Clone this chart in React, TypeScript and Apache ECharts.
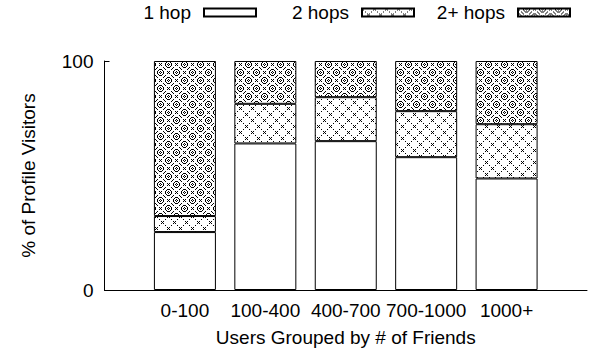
import React, { useEffect, useRef } from "react";
import * as echarts from "echarts";

// Friend-count groups and the share of profile visitors by hop distance (%)
const groups = ["0-100", "100-400", "400-700", "700-1000", "1000+"];
const oneHop = [25.3, 64.0, 65.0, 58.0, 48.7];
const twoHops = [7.0, 17.3, 19.2, 20.1, 23.7];
const morehops = [67.7, 18.7, 15.8, 21.9, 27.6];
const yTicks = [0, 100];

const FONT = "'Liberation Sans', Arial, Helvetica, sans-serif";
const FS = 19;

const mod = (a: number, n: number) => ((a % n) + n) % n;

// Builds a small black-on-white pixel tile and returns it as a data URL.
function makeTile(size: number, on: (x: number, y: number) => boolean): string {
  const c = document.createElement("canvas");
  c.width = size;
  c.height = size;
  const ctx = c.getContext("2d")!;
  const img = ctx.createImageData(size, size);
  for (let y = 0; y < size; y++) {
    for (let x = 0; x < size; x++) {
      const i = (y * size + x) * 4;
      const v = on(x, y) ? 0 : 255;
      img.data[i] = v;
      img.data[i + 1] = v;
      img.data[i + 2] = v;
      img.data[i + 3] = 255;
    }
  }
  ctx.putImageData(img, 0, 0);
  return c.toDataURL();
}

// Small X marks on a diagonal lattice, with a dot midway between them.
function crossTile(): string {
  const P = 12;
  return makeTile(P, (x, y) => {
    const t = mod(x, 6);
    const keep = t === 0 || t === 1 || t === 3 || t === 5;
    if (mod(x - y, P) === 0 && keep) return true;
    if (mod(x + y, P) === 0 && keep) return true;
    return false;
  });
}

// Diamond lattice with a small ringed cross in every cell.
function diamondTile(): string {
  const P = 16;
  const centers = [
    [8, 0],
    [0, 8],
    [8, 16],
    [16, 8],
  ];
  return makeTile(P, (x, y) => {
    const d1 = mod(x - y, P);
    const d2 = mod(x + y, P);
    if ((d1 === 0 || d2 === 0) && mod(x, 4) !== 2) return true;
    for (const [cx, cy] of centers) {
      for (const ox of [-P, 0, P]) {
        for (const oy of [-P, 0, P]) {
          const dx = x - (cx + ox);
          const dy = y - (cy + oy);
          const ax = Math.abs(dx);
          const ay = Math.abs(dy);
          if (ax > 3 || ay > 3) continue;
          // ring around the cell centre
          if ((ax === 3 && ay <= 1) || (ay === 3 && ax <= 1) || (ax === 2 && ay === 2)) return true;
          // small cross inside the ring
          if ((dx === 0 && ay === 1) || (dy === 0 && ax === 1)) return true;
        }
      }
    }
    return false;
  });
}

export default function App() {
  const ref = useRef<HTMLDivElement>(null);

  useEffect(() => {
    if (!ref.current) return;
    const chart = echarts.init(ref.current, undefined, { renderer: "svg" });

    const crossImg = crossTile();
    const diamondImg = diamondTile();

    const axisData = ["", ...groups, ""];
    const pad = (arr: number[]) => [null, ...arr, null];

    const border = { borderColor: "#000", borderWidth: 1 };

    const legendBase = {
      orient: "horizontal" as const,
      align: "right" as const,
      top: 3,
      padding: 0,
      itemWidth: 52,
      itemHeight: 8,
      icon: "rect",
      selectedMode: false,
      textStyle: {
        fontFamily: FONT,
        fontSize: FS,
        color: "#000",
        padding: [0, 8, 0, 0],
      },
    };

    chart.setOption({
      animation: false,
      backgroundColor: "#fff",
      textStyle: { fontFamily: FONT, color: "#000" },
      legend: [
        { ...legendBase, right: 333, data: ["1 hop"] },
        { ...legendBase, right: 175, data: ["2 hops"] },
        { ...legendBase, right: 19, data: ["2+ hops"] },
      ],
      grid: { left: 104.5, right: -0.5, top: 61, bottom: 59, containLabel: false },
      xAxis: {
        type: "category",
        data: axisData,
        boundaryGap: false,
        axisLine: { show: true, lineStyle: { color: "#000", width: 1 } },
        axisTick: { show: false },
        axisLabel: {
          interval: 0,
          margin: 11,
          fontFamily: FONT,
          fontSize: FS,
          color: "#000",
        },
        splitLine: { show: false },
        name: "Users Grouped by # of Friends",
        nameLocation: "middle",
        nameGap: 38,
        nameTextStyle: { fontFamily: FONT, fontSize: FS, color: "#000" },
      },
      yAxis: {
        type: "value",
        min: yTicks[0],
        max: yTicks[yTicks.length - 1],
        interval: yTicks[1] - yTicks[0],
        axisLine: { show: true, lineStyle: { color: "#000", width: 1 } },
        axisTick: { show: true, inside: true, length: 5, lineStyle: { color: "#000" } },
        axisLabel: { margin: 11, fontFamily: FONT, fontSize: FS, color: "#000" },
        splitLine: { show: false },
        name: "% of Profile Visitors",
        nameLocation: "middle",
        nameRotate: 90,
        nameGap: 67,
        nameTextStyle: { fontFamily: FONT, fontSize: FS, color: "#000" },
      },
      series: [
        {
          name: "1 hop",
          type: "bar",
          stack: "share",
          barWidth: 62,
          data: pad(oneHop),
          itemStyle: { color: "#fff", ...border },
        },
        {
          name: "2 hops",
          type: "bar",
          stack: "share",
          barWidth: 62,
          data: pad(twoHops),
          itemStyle: {
            color: { image: crossImg, repeat: "repeat", imageWidth: 12, imageHeight: 12 },
            ...border,
          },
        },
        {
          name: "2+ hops",
          type: "bar",
          stack: "share",
          barWidth: 62,
          data: pad(morehops),
          itemStyle: {
            color: { image: diamondImg, repeat: "repeat", imageWidth: 16, imageHeight: 16 },
            ...border,
          },
        },
      ],
    });

    return () => chart.dispose();
  }, []);

  return (
    <div
      ref={ref}
      style={{ position: "fixed", left: 0, top: 0, width: 590, height: 352, background: "#fff" }}
    />
  );
}
